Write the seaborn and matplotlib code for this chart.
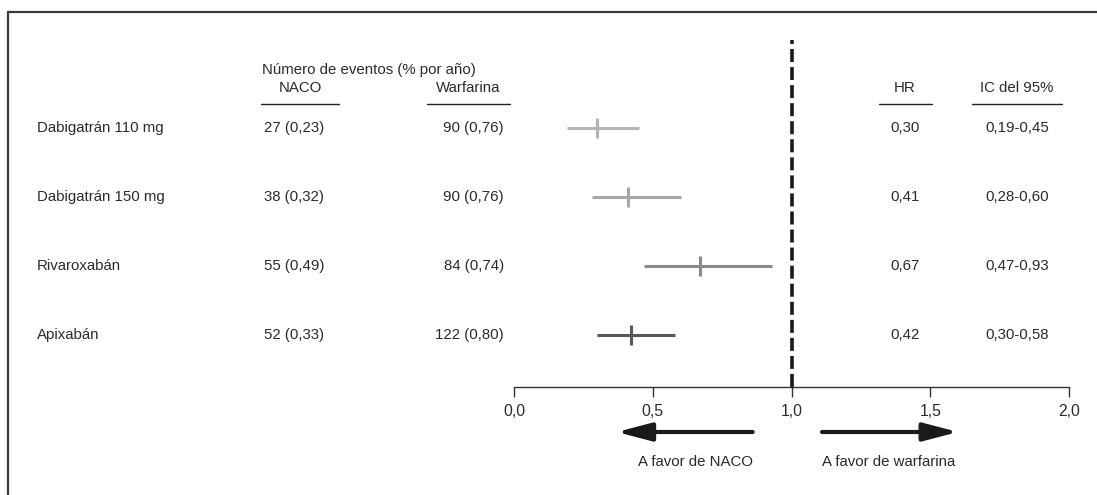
import numpy as np
import pandas as pd
import seaborn as sns
import matplotlib.pyplot as plt
from matplotlib.lines import Line2D
from matplotlib.transforms import blended_transform_factory

sns.set_style("white")
plt.rcParams['font.family'] = ['Liberation Sans', 'DejaVu Sans']

# data
farmacos = ['Dabigatrán 110 mg', 'Dabigatrán 150 mg', 'Rivaroxabán', 'Apixabán']
naco = ['27 (0,23)', '38 (0,32)', '55 (0,49)', '52 (0,33)']
warfarina = ['90 (0,76)', '90 (0,76)', '84 (0,74)', '122 (0,80)']
hr = [0.30, 0.41, 0.67, 0.42]
ic_low = [0.19, 0.28, 0.47, 0.30]
ic_high = [0.45, 0.60, 0.93, 0.58]
hr_txt = ['0,30', '0,41', '0,67', '0,42']
ic_txt = ['0,19-0,45', '0,28-0,60', '0,47-0,93', '0,30-0,58']
colores = ['#b4b4b4', '#a8a8a8', '#8a8a8a', '#585858']
ticks = [0.0, 0.5, 1.0, 1.5, 2.0]

d = pd.DataFrame({'farmaco': farmacos, 'hr': hr, 'lo': ic_low, 'hi': ic_high})
d['pos'] = np.arange(len(d))

W, H = 1097, 495
fig = plt.figure(figsize=(W / 100, H / 100), dpi=100)
ax = fig.add_axes([514 / W, 1 - 387 / H, 555 / W, 347 / H])

txt = '#2b2b2b'
fs = 10.8

# intervals
for i, r in d.iterrows():
    ax.hlines(r['pos'], r['lo'], r['hi'], color=colores[i], lw=2.2)
sns.scatterplot(data=d, x='hr', y='pos', hue='farmaco', palette=colores,
                marker='|', s=210, linewidth=2.2, legend=False, ax=ax, zorder=3)

ax.axvline(1.0, color='#1a1a1a', lw=2.6, dashes=(3.6, 1.4), zorder=4)

ax.set_xlim(0, 2)
ax.set_ylim(3 + 52 / 69, -88 / 69)
ax.set_xticks(ticks)
ax.set_xticklabels([f'{t:.1f}'.replace('.', ',') for t in ticks], fontsize=fs + 0.5, color=txt)
ax.set_yticks([])
ax.set_xlabel('')
ax.set_ylabel('')
sns.despine(ax=ax, left=True, top=True, right=True)
ax.spines['bottom'].set_color('#333333')
ax.spines['bottom'].set_linewidth(1.0)
ax.tick_params(axis='x', bottom=True, direction='out', length=7, width=1.0, color='#333333', pad=5)

# columns
tr = blended_transform_factory(fig.transFigure, ax.transData)
for i in range(len(d)):
    ax.text(37 / W, i, farmacos[i], transform=tr, ha='left', va='center', fontsize=fs, color=txt)
    ax.text(294 / W, i, naco[i], transform=tr, ha='center', va='center', fontsize=fs, color=txt)
    ax.text(504 / W, i, warfarina[i], transform=tr, ha='right', va='center', fontsize=fs, color=txt)
    ax.text(905 / W, i, hr_txt[i], transform=tr, ha='center', va='center', fontsize=fs, color=txt)
    ax.text(1017 / W, i, ic_txt[i], transform=tr, ha='center', va='center', fontsize=fs, color=txt)

fig.text(262 / W, 1 - 70 / H, 'Número de eventos (% por año)', ha='left', va='center', fontsize=fs, color=txt)
for x, s in [(300, 'NACO'), (468, 'Warfarina'), (905, 'HR'), (1017, 'IC del 95%')]:
    fig.text(x / W, 1 - 88 / H, s, ha='center', va='center', fontsize=fs, color=txt)
for x0, x1 in [(261, 339), (427, 510), (879, 932), (972, 1062)]:
    fig.add_artist(Line2D([x0 / W, x1 / W], [1 - 104 / H, 1 - 104 / H], color='#222222', lw=1.0))

# arrows
tra = blended_transform_factory(ax.transData, fig.transFigure)
ya = 1 - 432 / H
ap = dict(arrowstyle='-|>,head_length=2.1,head_width=0.55', color='#1a1a1a', lw=3.0, shrinkA=0, shrinkB=0)
ax.annotate('', xy=(0.37, ya), xytext=(0.86, ya), xycoords=tra, textcoords=tra, arrowprops=ap)
ax.annotate('', xy=(1.60, ya), xytext=(1.11, ya), xycoords=tra, textcoords=tra, arrowprops=ap)
ax.text(0.86, 1 - 462 / H, 'A favor de NACO', transform=tra, ha='right', va='center', fontsize=fs, color=txt)
ax.text(1.11, 1 - 462 / H, 'A favor de warfarina', transform=tra, ha='left', va='center', fontsize=fs, color=txt)

# frame
fig.add_artist(Line2D([8 / W, 8 / W], [0, 1 - 12 / H], color='#3a3a3a', lw=1.6))
fig.add_artist(Line2D([8 / W, 1], [1 - 12 / H, 1 - 12 / H], color='#3a3a3a', lw=1.6))

fig.savefig('out.png', dpi=100)
